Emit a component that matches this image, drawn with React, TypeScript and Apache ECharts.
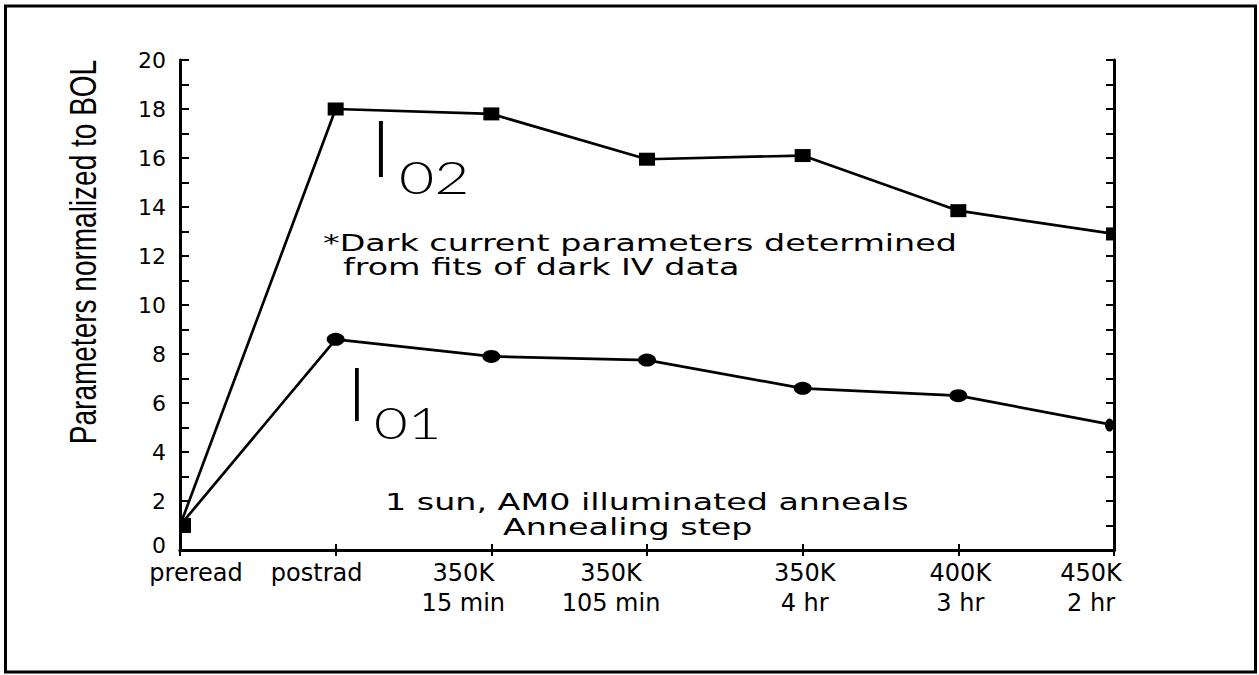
import React, { useEffect, useRef } from "react";
import * as echarts from "echarts";

// Annealing steps along the x axis (second line = anneal duration)
const steps = [
  "preread",
  "postrad",
  "350K\n15 min",
  "350K\n105 min",
  "350K\n4 hr",
  "400K\n3 hr",
  "450K\n2 hr",
];

// Dark current parameters, normalized to beginning of life
const i02Values = [1.0, 18.0, 17.8, 15.95, 16.1, 13.85, 12.9];
const i01Values = [1.0, 8.6, 7.9, 7.75, 6.6, 6.3, 5.1];

// Horizontal nudge (px) applied to each step label
const labelShift = [16, -19, -28, -36, 2, 2, -23];

const FONT = "DejaVu Sans";

function edgeClipped(values: number[], w: number, h: number, first: [number, number]) {
  // end points sit on the frame, so only the inner half of the marker shows
  const last = values.length - 1;
  return values.map((v, i) => {
    if (i === 0) return { value: v, symbolSize: first, symbolOffset: [first[0] / 2, 0] };
    if (i === last) return { value: v, symbolSize: [w / 2, h], symbolOffset: [-w / 4, 0] };
    return v;
  });
}

export default function App() {
  const ref = useRef<HTMLDivElement>(null);

  useEffect(() => {
    if (!ref.current) return;
    const chart = echarts.init(ref.current, null, { renderer: "svg" });

    const rich: Record<string, any> = {};
    labelShift.forEach((d, i) => {
      rich["s" + i] = {
        fontFamily: FONT,
        fontSize: 24,
        lineHeight: 30,
        color: "#000",
        padding: d >= 0 ? [0, 0, 0, 2 * d] : [0, -2 * d, 0, 0],
      };
    });

    const axisLine = { show: true, lineStyle: { color: "#000", width: 3 } };
    const tickStyle = { color: "#000", width: 2 };
    const yLabelBase = { fontFamily: FONT, fontSize: 22, color: "#000" };

    chart.setOption({
      animation: false,
      backgroundColor: "#fff",
      grid: { left: 180, right: 145, top: 60, bottom: 125 },
      xAxis: [
        {
          type: "category",
          data: steps,
          boundaryGap: false,
          axisLine,
          axisTick: { show: true, inside: true, length: 6, lineStyle: tickStyle },
          axisLabel: {
            interval: 0,
            margin: 8,
            formatter: (value: string, index: number) =>
              value
                .split("\n")
                .map((line) => `{s${index}|${line}}`)
                .join("\n"),
            rich,
          },
          splitLine: { show: false },
        },
        {
          type: "category",
          data: steps,
          position: "top",
          boundaryGap: false,
          axisLine,
          axisTick: { show: true, inside: true, length: 6, lineStyle: tickStyle },
          axisLabel: { show: false },
          splitLine: { show: false },
        },
      ],
      yAxis: [
        {
          type: "value",
          min: 0,
          max: 20,
          interval: 2,
          axisLine,
          axisTick: { show: true, inside: true, length: 9, lineStyle: tickStyle },
          minorTick: { show: true, splitNumber: 2, length: 9, lineStyle: tickStyle },
          axisLabel: {
            margin: 14,
            formatter: (v: number) => (v === 0 ? `{zero|${v}}` : `{n|${v}}`),
            rich: {
              n: { ...yLabelBase },
              // the zero label sits a little higher, clear of the step labels below
              zero: { ...yLabelBase, padding: [0, 0, 10, 0] },
            },
          },
          splitLine: { show: false },
        },
        {
          type: "value",
          position: "right",
          min: 0,
          max: 20,
          interval: 2,
          axisLine,
          axisTick: { show: true, inside: true, length: 8, lineStyle: tickStyle },
          minorTick: { show: true, splitNumber: 2, length: 8, lineStyle: tickStyle },
          axisLabel: { show: false },
          splitLine: { show: false },
        },
      ],
      series: [
        {
          name: "I02",
          type: "line",
          data: edgeClipped(i02Values, 16, 13, [11, 15]),
          symbol: "rect",
          symbolSize: [16, 13],
          showAllSymbol: true,
          lineStyle: { color: "#000", width: 2.7 },
          itemStyle: { color: "#000" },
          z: 3,
        },
        {
          name: "I01",
          type: "line",
          data: edgeClipped(i01Values, 18, 13, [8, 10]),
          symbol: "circle",
          symbolSize: [18, 13],
          showAllSymbol: true,
          lineStyle: { color: "#000", width: 2.7 },
          itemStyle: { color: "#000" },
          z: 2,
        },
      ],
      graphic: [
        {
          type: "rect",
          shape: { x: 5.5, y: 6, width: 1250, height: 666 },
          style: { fill: "none", stroke: "#000", lineWidth: 3 },
          silent: true,
        },
        {
          type: "text",
          x: 84,
          y: 252,
          rotation: Math.PI / 2,
          scaleY: 1.3,
          style: {
            text: "Parameters normalized to BOL",
            fontFamily: "Liberation Sans",
            fontSize: 28,
            fill: "#000",
            align: "center",
            verticalAlign: "middle",
          },
        },
        {
          type: "text",
          x: 381,
          y: 147,
          style: { text: "I", fontFamily: "Lato", fontWeight: 300, fontSize: 78, fill: "#000", align: "center", verticalAlign: "middle" },
        },
        {
          type: "text",
          x: 399,
          y: 176,
          scaleX: 1.35,
          style: { text: "02", fontFamily: "Lato", fontWeight: 300, fontSize: 45, fill: "#000", align: "left", verticalAlign: "middle" },
        },
        {
          type: "text",
          x: 357,
          y: 392,
          style: { text: "I", fontFamily: "Lato", fontWeight: 300, fontSize: 74, fill: "#000", align: "center", verticalAlign: "middle" },
        },
        {
          type: "text",
          x: 374,
          y: 423,
          scaleX: 1.35,
          style: { text: "01", fontFamily: "Lato", fontWeight: 300, fontSize: 43, fill: "#000", align: "left", verticalAlign: "middle" },
        },
        {
          type: "text",
          x: 323,
          y: 243,
          scaleX: 1.45,
          style: { text: "*Dark current parameters determined", fontFamily: FONT, fontSize: 23, fill: "#000", align: "left", verticalAlign: "middle" },
        },
        {
          type: "text",
          x: 343,
          y: 267,
          scaleX: 1.45,
          style: { text: "from fits of dark IV data", fontFamily: FONT, fontSize: 23, fill: "#000", align: "left", verticalAlign: "middle" },
        },
        {
          type: "text",
          x: 385,
          y: 502,
          scaleX: 1.45,
          style: { text: "1 sun, AM0 illuminated anneals", fontFamily: FONT, fontSize: 23, fill: "#000", align: "left", verticalAlign: "middle" },
        },
        {
          type: "text",
          x: 503,
          y: 527,
          scaleX: 1.45,
          style: { text: "Annealing step", fontFamily: FONT, fontSize: 23, fill: "#000", align: "left", verticalAlign: "middle" },
        },
      ],
    });

    return () => chart.dispose();
  }, []);

  return (
    <div
      ref={ref}
      style={{ position: "fixed", left: 0, top: 0, width: 1259, height: 675, background: "#fff" }}
    />
  );
}
